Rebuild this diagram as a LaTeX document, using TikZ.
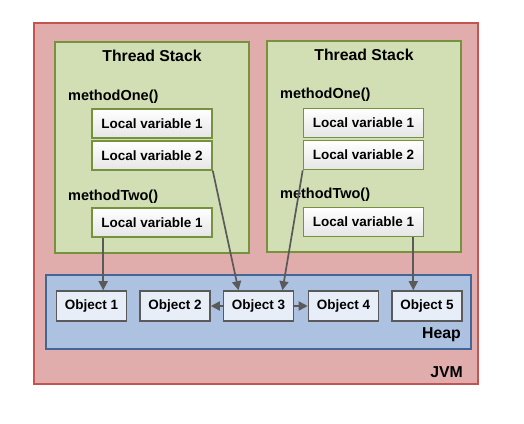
\documentclass[tikz,border=0pt]{standalone}
\usepackage{fontspec}
\setmainfont{Liberation Sans}
\usepackage{tikz}
\usetikzlibrary{calc,positioning,arrows.meta}
\definecolor{jvmfill}{RGB}{224,172,172}
\definecolor{jvmline}{RGB}{196,84,82}
\definecolor{tsfill}{RGB}{210,223,180}
\definecolor{tsline}{RGB}{118,146,60}
\definecolor{heapfill}{RGB}{172,194,224}
\definecolor{heapline}{RGB}{66,102,150}
\definecolor{objfill}{RGB}{232,238,247}
\definecolor{objline}{RGB}{90,90,90}
\definecolor{linkc}{RGB}{90,90,90}

\begin{document}
\begin{tikzpicture}[x=1pt,y=-1pt,
        every node/.style={font=\bfseries\fontsize{13.5}{16}\selectfont},
        area/.style={draw,line width=1.6pt,inner sep=0pt},
        localvar/.style={draw=tsline,line width=1.6pt,top color=white,bottom color=gray!20,minimum width=120pt,minimum height=29pt,inner sep=0pt},
        object/.style={draw=objline,line width=1.6pt,fill=objfill,minimum width=70pt,minimum height=30pt,inner sep=0pt},
        method/.style={anchor=west,inner sep=0pt,font=\bfseries\fontsize{14.5}{17}\selectfont},
        title/.style={font=\bfseries\fontsize{15.8}{18}\selectfont},
        link/.style={draw=linkc,line width=1.7pt,-{Triangle[length=9pt,width=9pt]}}]
    \useasboundingbox (0,0) rectangle (524,423);

    % JVM and its parts
    \node[area,draw=jvmline,fill=jvmfill,minimum width=444pt,minimum height=361pt] (jvm) at (256,203.5) {};
    \node[area,draw=tsline,fill=tsfill,minimum width=194pt,minimum height=211pt] (tsone) at (152,147.5) {};
    \node[area,draw=tsline,fill=tsfill,minimum width=194pt,minimum height=211pt] (tstwo) at (364,146.5) {};
    \node[area,draw=heapline,fill=heapfill,minimum width=425pt,minimum height=74pt] (heap) at (258.5,312) {};

    \node[title,anchor=east,inner sep=0pt] (jvmlabel) at (463,372) {JVM};
    \node[title,anchor=east,inner sep=0pt] (heaplabel) at (461,335) {Heap};

    % first thread stack
    \node[title] (tsonelabel) at (152,56) {Thread Stack};
    \node[method] (oneone) at (68,97) {methodOne()};
    \node[method] (onetwo) at (68,197) {methodTwo()};
    \node[localvar] (a1) at (152,123.5) {Local variable 1};
    \node[localvar] (a2) at (152,155.5) {Local variable 2};
    \node[localvar] (a3) at (152,222.5) {Local variable 1};

    % second thread stack
    \node[title] (tstwolabel) at (364,55) {Thread Stack};
    \node[method] (twoone) at (280,95) {methodOne()};
    \node[method] (twotwo) at (280,195) {methodTwo()};
    \node[localvar] (b1) at (363.5,123) {Local variable 1};
    \node[localvar] (b2) at (363.5,155) {Local variable 2};
    \node[localvar] (b3) at (363.5,222) {Local variable 1};

    % heap objects
    \node[object] (o1) at (91.5,306) {Object 1};
    \node[object] (o2) at (175,306) {Object 2};
    \node[object] (o3) at (258.5,306) {Object 3};
    \node[object] (o4) at (343.5,306) {Object 4};
    \node[object] (o5) at (427,306) {Object 5};

    % references
    \draw[link] ([xshift=12pt]a3.south west) -- ([xshift=12pt]a3.south west |- o1.north);
    \draw[link] (a2.south east) -- ([xshift=-20pt]o3.north);
    \draw[link] (b2.south west) -- ([xshift=24pt]o3.north);
    \draw[link] ([xshift=-11pt]b3.south east) -- ([xshift=-11pt]b3.south east |- o5.north);
    \draw[link] (o3) -- (o2);
    \draw[link] (o3) -- (o4);
\end{tikzpicture}
\end{document}
